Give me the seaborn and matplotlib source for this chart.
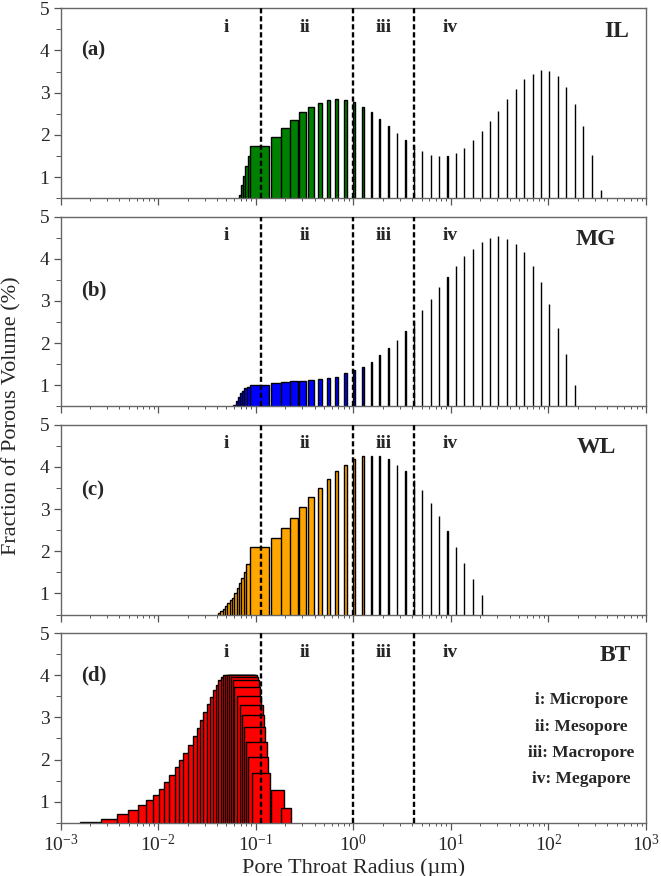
import matplotlib
matplotlib.use("Agg")
import matplotlib.pyplot as plt
import matplotlib.ticker as mticker
import seaborn as sns

# pore throat radius (um, left edge of each bar) and fraction of porous volume (%)
il_radius = [0.0678, 0.0710, 0.0744, 0.0781, 0.0826, 0.0872, 0.142, 0.180, 0.224, 0.279,
             0.343, 0.431, 0.533, 0.648, 0.802, 1.0, 1.235, 1.507, 1.845, 2.25, 2.78, 3.38,
             4.14, 5.06, 6.21, 7.55, 9.19, 11.3, 13.7, 17.0, 20.7, 25.2, 30.6, 37.3, 46.2,
             56.1, 68.9, 83.3, 102, 125, 152, 187, 228, 280, 343]
il_fraction = [0.58, 0.80, 1.02, 1.26, 1.50, 1.73, 1.95, 2.16, 2.34, 2.53, 2.66, 2.76, 2.82,
               2.84, 2.82, 2.77, 2.66, 2.53, 2.37, 2.20, 2.04, 1.88, 1.75, 1.61, 1.53, 1.49,
               1.49, 1.57, 1.69, 1.87, 2.08, 2.32, 2.57, 2.84, 3.08, 3.32, 3.45, 3.53, 3.52,
               3.39, 3.14, 2.74, 2.20, 1.53, 0.70]

mg_radius = [0.0588, 0.0622, 0.0652, 0.0689, 0.0727, 0.0762, 0.0806, 0.0872, 0.142, 0.180,
             0.224, 0.279, 0.343, 0.431, 0.533, 0.648, 0.802, 1.0, 1.235, 1.507, 1.845, 2.25,
             2.78, 3.38, 4.14, 5.06, 6.21, 7.55, 9.19, 11.3, 13.7, 17.0, 20.7, 25.2, 30.6,
             37.3, 46.2, 56.1, 68.9, 83.3, 102, 125, 152, 187]
mg_fraction = [0.54, 0.63, 0.73, 0.81, 0.87, 0.93, 0.97, 1.01, 1.05, 1.07, 1.09, 1.11, 1.13,
               1.14, 1.17, 1.20, 1.28, 1.36, 1.44, 1.56, 1.72, 1.88, 2.08, 2.28, 2.52, 2.79,
               3.04, 3.33, 3.56, 3.83, 4.06, 4.24, 4.40, 4.50, 4.53, 4.47, 4.36, 4.16, 3.83,
               3.45, 2.93, 2.35, 1.75, 1.00]

wl_radius = [0.0410, 0.0433, 0.0457, 0.0483, 0.0510, 0.0539, 0.0570, 0.0602, 0.0636, 0.0673,
             0.0710, 0.0750, 0.0793, 0.0872, 0.142, 0.180, 0.224, 0.279, 0.343, 0.431, 0.533,
             0.648, 0.802, 1.0, 1.235, 1.507, 1.845, 2.25, 2.78, 3.38, 4.14, 5.06, 6.21,
             7.55, 9.19, 11.3, 13.7, 17.0, 20.7]
wl_fraction = [0.53, 0.58, 0.64, 0.70, 0.77, 0.85, 0.90, 1.02, 1.12, 1.24, 1.37, 1.52, 1.70,
               2.11, 2.32, 2.56, 2.80, 3.04, 3.28, 3.49, 3.71, 3.90, 4.05, 4.18, 4.25, 4.27,
               4.25, 4.18, 4.05, 3.90, 3.68, 3.45, 3.15, 2.84, 2.48, 2.11, 1.73, 1.34, 0.96]

bt_radius = [0.00158, 0.00259, 0.00375, 0.00493, 0.00616, 0.00749, 0.00890, 0.01018, 0.01146,
             0.01298, 0.01475, 0.01643, 0.01806, 0.02032, 0.02255, 0.02478, 0.02679, 0.02896,
             0.03139, 0.03392, 0.03616, 0.03881, 0.04126, 0.04397, 0.04642, 0.04834, 0.05102,
             0.05350, 0.05568, 0.05796, 0.06019, 0.06370, 0.06887, 0.07170, 0.07568, 0.07878,
             0.08377, 0.09078, 0.1432, 0.1800]
bt_fraction = [0.53, 0.60, 0.70, 0.80, 0.92, 1.04, 1.17, 1.31, 1.47, 1.63, 1.83, 1.98, 2.16,
               2.34, 2.55, 2.75, 2.95, 3.13, 3.31, 3.49, 3.64, 3.76, 3.88, 3.96, 4.01, 4.00,
               4.00, 4.00, 3.96, 3.88, 3.72, 3.50, 3.29, 3.05, 2.78, 2.42, 2.06, 1.68, 1.27,
               0.86]

samples = ["IL", "MG", "WL", "BT"]
tags = ["(a)", "(b)", "(c)", "(d)"]
colours = ["green", "blue", "orange", "red"]
radii = [il_radius, mg_radius, wl_radius, bt_radius]
fractions = [il_fraction, mg_fraction, wl_fraction, bt_fraction]

boundaries = [0.112, 1.0, 4.14]
zone_names = ["i", "ii", "iii", "iv"]
zone_centres = [0.0495, 0.319, 2.04, 9.8]
zone_legend = ["i: Micropore", "ii: Mesopore", "iii: Macropore", "iv: Megapore"]

bar_width = 0.05  # um, same for every bar
tag_y = [0.78, 0.61, 0.654, 0.778]
name_x = [0.972, 0.949, 0.949, 0.975]

sns.set_theme(style="ticks")
plt.rcParams["font.family"] = ["Liberation Serif", "DejaVu Serif"]
plt.rcParams["mathtext.fontset"] = "custom"
plt.rcParams["mathtext.rm"] = "Liberation Serif"

fig, axes = plt.subplots(4, 1, figsize=(6.61, 8.76), dpi=100, sharex=True)
fig.subplots_adjust(left=0.0918, right=0.9773, top=0.9905, bottom=0.0607, hspace=0.0974)

for i, ax in enumerate(axes):
    ax.bar(radii[i], fractions[i], width=bar_width, align="edge",
           color=colours[i], edgecolor="black", linewidth=1.0, zorder=2)
    for b in boundaries:
        ax.axvline(b, color="black", lw=1.7, ls=(0, (2.2, 1.2)), zorder=3)

    ax.set_xscale("log")
    ax.set_xlim(1e-3, 1e3)
    ax.set_ylim(0.5, 5)
    ax.yaxis.set_major_locator(mticker.MultipleLocator(1))
    ax.yaxis.set_minor_locator(mticker.MultipleLocator(0.5))
    ax.xaxis.set_major_locator(mticker.LogLocator(base=10, numticks=10))
    ax.xaxis.set_minor_locator(mticker.LogLocator(base=10, subs=range(2, 10), numticks=10))
    ax.xaxis.set_minor_formatter(mticker.NullFormatter())
    ax.tick_params(which="major", direction="out", length=5, width=0.9,
                   color="#555555", labelsize=14, pad=3)
    ax.tick_params(which="minor", direction="out", length=2.5, width=0.7, color="#555555")
    ax.tick_params(axis="y", which="minor", length=3.5)
    for s in ax.spines.values():
        s.set_color("#666666")
        s.set_linewidth(1.0)

    for name, xc in zip(zone_names, zone_centres):
        ax.text(xc, 0.9, name, transform=ax.get_xaxis_transform(), ha="center",
                va="center", fontsize=14, fontweight="bold")
    ax.text(0.035, tag_y[i], tags[i], transform=ax.transAxes, ha="left", va="center",
            fontsize=15, fontweight="bold")
    ax.text(name_x[i], 0.88, samples[i], transform=ax.transAxes, ha="right",
            va="center", fontsize=17, fontweight="bold")

for k, line in enumerate(zone_legend):
    axes[3].text(0.889, 0.646 - k * 0.139, line, transform=axes[3].transAxes,
                 ha="center", va="center", fontsize=12.5, fontweight="bold")

axes[3].set_xlabel("Pore Throat Radius (\u00b5m)", fontsize=16, labelpad=2)
fig.text(0.018, 0.525, "Fraction of Porous Volume (%)", rotation=90,
         ha="center", va="center", fontsize=16)

fig.savefig("out.png", dpi=100)
